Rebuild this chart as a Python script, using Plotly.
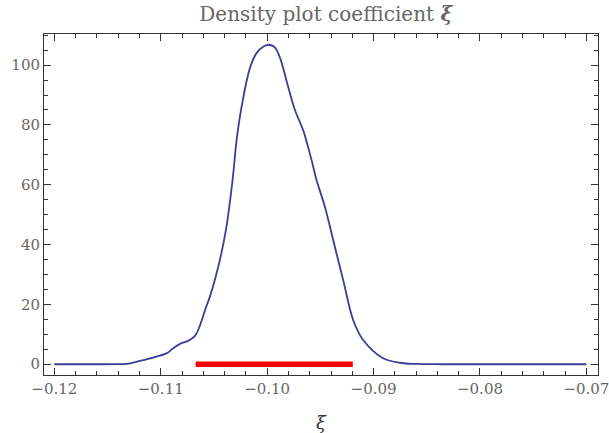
import plotly.graph_objects as go

# density curve
xi = [-0.1200, -0.1157, -0.1138, -0.1132, -0.11195, -0.11073, -0.10942, -0.10885,
      -0.10819, -0.10744, -0.10678, -0.10631, -0.10575, -0.10538, -0.10460, -0.10387,
      -0.10325, -0.10287, -0.10240, -0.10162, -0.10100, -0.10030, -0.09981, -0.09930,
      -0.09880, -0.09802, -0.09739, -0.09662, -0.09583, -0.09536, -0.09458, -0.09364,
      -0.09286, -0.09192, -0.09098, -0.08910, -0.08753, -0.08597, -0.08350, -0.0700]
density = [0, 0, 0.05, 0.1, 1.1, 2.2, 3.7, 5.3,
           6.8, 7.8, 9.5, 13.0, 19.0, 22.6, 32.5, 45.0,
           61.6, 74.9, 86.1, 99.0, 104.0, 106.3, 106.8, 106.0,
           102.5, 92.7, 85.0, 78.3, 68.3, 61.6, 52.7, 39.3,
           28.2, 14.8, 8.1, 2.0, 0.5, 0.1, 0, 0]

# red interval bar
interval_x = [-0.10672, -0.09195]
interval_y = [0, 0]

fnt = "DejaVu Serif"
grey = "#666666"

fig = go.Figure()
fig.add_trace(go.Scatter(x=xi, y=density, mode="lines",
                         line=dict(color="#3d3d99", width=1.8, shape="spline", smoothing=1.0)))
fig.add_trace(go.Scatter(x=interval_x, y=interval_y, mode="lines",
                         line=dict(color="#ff0000", width=5.5)))

fig.update_layout(
    width=609, height=433,
    margin=dict(l=44, r=11, t=34, b=58),
    paper_bgcolor="white", plot_bgcolor="white",
    showlegend=False,
    title=dict(text="Density plot coefficient <b><i>ξ</i></b>", x=0.535, xanchor="center",
               y=0.968, yanchor="middle", yref="container",
               font=dict(family=fnt, size=20, color=grey)),
)

fig.update_xaxes(
    range=[-0.12097, -0.06891], showgrid=False, zeroline=False, automargin=False,
    showline=True, linecolor="#333", linewidth=1, mirror="ticks",
    ticks="inside", ticklen=7, tickcolor="#333", tickwidth=1,
    tick0=-0.12, dtick=0.01, tickformat=".2f", ticklabeloverflow="allow",
    tickfont=dict(family=fnt, size=15, color=grey),
    minor=dict(ticks="inside", ticklen=4, dtick=0.002, tickcolor="#333", showgrid=False),
    title=dict(text="<i>ξ</i>", font=dict(family=fnt, size=18, color="#333"), standoff=20),
)
fig.update_yaxes(
    range=[-3.6, 110.4], showgrid=False, zeroline=False, automargin=False,
    showline=True, linecolor="#333", linewidth=1, mirror="ticks",
    ticks="inside", ticklen=7, tickcolor="#333", tickwidth=1,
    tick0=0, dtick=20, ticklabeloverflow="allow",
    tickfont=dict(family=fnt, size=15, color=grey),
    minor=dict(ticks="inside", ticklen=4, dtick=5, tickcolor="#333", showgrid=False),
)

# drop the browser's default 8px body margin so the figure sits at the window corner
fig.write_html("out.html", config={"displayModeBar": False},
               post_script="document.body.style.margin = '0';")
